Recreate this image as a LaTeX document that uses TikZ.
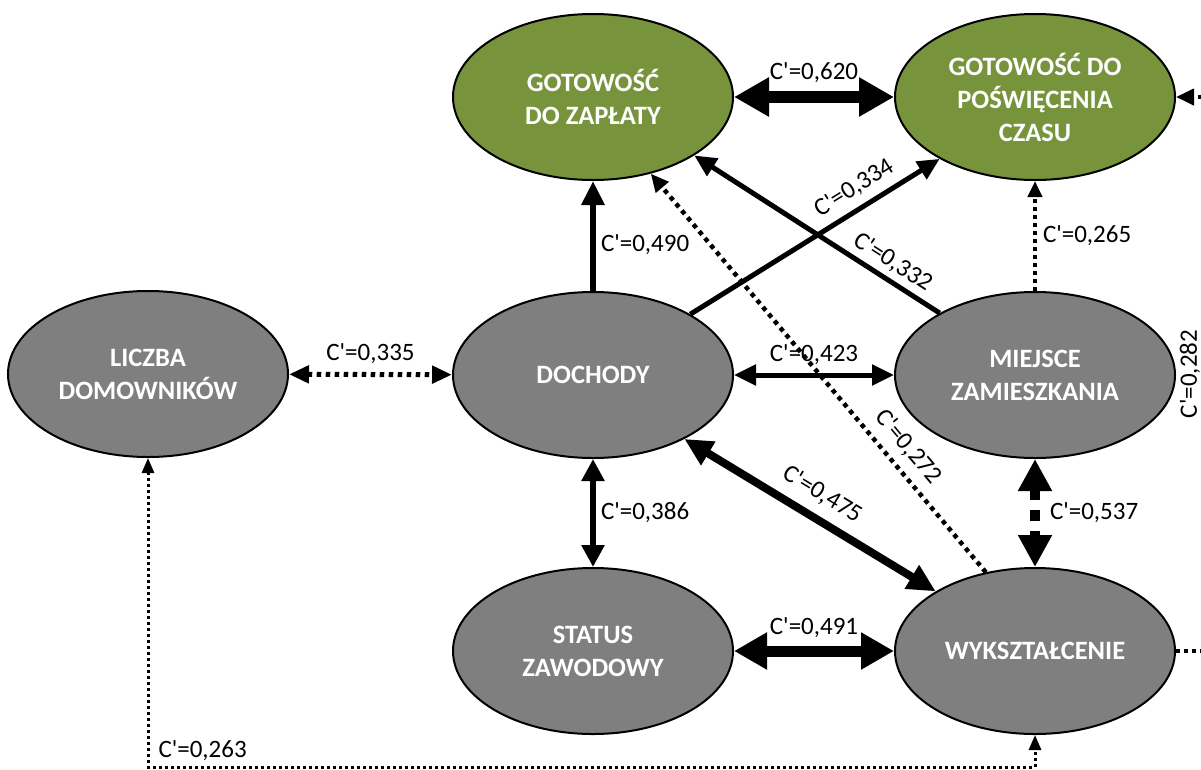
\documentclass[tikz,border=0pt]{standalone}
\usepackage{fontspec}
\setmainfont{Carlito}
\usepackage{xcolor}
\usepackage{tikz}
\usetikzlibrary{arrows.meta}
\usetikzlibrary{shapes.geometric}

\definecolor{goalgreen}{HTML}{77933C}
\definecolor{factorgray}{HTML}{7F7F7F}

\newcommand{\cval}[1]{C\textquotesingle=#1}

\tikzset{
  factor/.style={ellipse, draw=black, line width=2pt, fill=factorgray,
    minimum width=280pt, minimum height=166pt, inner sep=0pt,
    align=center, text=white, font=\fontsize{26.5}{33}\selectfont\bfseries},
  goal/.style={factor, fill=goalgreen},
  coef/.style={font=\fontsize{25}{28}\selectfont, inner sep=0pt},
  twoway/.style 2 args={arrows={Triangle[length=#1,width=#2]-Triangle[length=#1,width=#2]}},
  oneway/.style 2 args={arrows={-Triangle[length=#1,width=#2]}},
  dotline/.style={dash pattern=on #1 off #1},
}

\begin{document}
\begin{tikzpicture}[x=1pt,y=-1pt]

\useasboundingbox (0,0) rectangle (1201,769);

% Draw ellipses
\node[goal] (zap) at (593,97) {GOTOWOŚĆ\\DO ZAPŁATY};
\node[goal] (czas) at (1035,97) {GOTOWOŚĆ DO\\POŚWIĘCENIA\\CZASU};
\node[factor] (licz) at (148,374) {LICZBA\\DOMOWNIKÓW};
\node[factor] (doch) at (593,375) {DOCHODY};
\node[factor] (miej) at (1035,375) {MIEJSCE\\ZAMIESZKANIA};
\node[factor] (stat) at (593,651) {STATUS\\ZAWODOWY};
\node[factor] (wyks) at (1035,651) {WYKSZTAŁCENIE};

\coordinate (lowleft) at (148,767);
\coordinate (lowright) at (1228,651);
\coordinate (upright) at (1228,97);

% Draw solid links
\draw[line width=12pt, twoway={35pt}{37pt}] (zap) -- node[coef, above=8pt] (l620) {\cval{0,620}} (czas);
\draw[line width=6pt, oneway={24pt}{22pt}] (doch) -- node[coef, right=5pt, pos=0.42] (l490) {\cval{0,490}} (zap);
\draw[line width=5pt, oneway={22pt}{20pt}] (doch.32) -- node[coef, sloped, above=8pt, pos=0.7] (l334) {\cval{0,334}} (czas.213);
\draw[line width=5pt, oneway={22pt}{20pt}] (miej.147) -- node[coef, sloped, above=5pt, pos=0.23] (l332) {\cval{0,332}} (zap.330);
\draw[line width=5pt, twoway={22pt}{20pt}] (doch) -- node[coef, above=8pt] (l423) {\cval{0,423}} (miej);
\draw[line width=6pt, twoway={22pt}{22pt}] (doch) -- node[coef, right=5pt] (l386) {\cval{0,386}} (stat);
\draw[line width=8pt, twoway={28pt}{26pt}] (doch.-35) -- node[coef, sloped, above=10pt] (l475) {\cval{0,475}} (wyks.149);
\draw[line width=11pt, twoway={33pt}{35pt}] (stat) -- node[coef, above=8pt] (l491) {\cval{0,491}} (wyks);

% Draw dashed and dotted links
\draw[line width=10pt, dash pattern=on 11pt off 10pt, twoway={32pt}{32pt}] (miej) -- node[coef, right=10pt] (l537) {\cval{0,537}} (wyks);
\draw[line width=5pt, dotline=4.5pt, twoway={20pt}{17pt}] (licz) -- node[coef, above=8pt] (l335) {\cval{0,335}} (doch);
\draw[line width=4pt, dotline=4pt, oneway={16pt}{14pt}] (miej) -- node[coef, right=6pt] (l265) {\cval{0,265}} (czas);
\draw[line width=4.5pt, dotline=4.5pt, oneway={18pt}{16pt}] (wyks.122) -- node[coef, sloped, above=9pt, pos=0.28] (l272) {\cval{0,272}} (zap.307);
\draw[line width=3pt, dotline=3pt, twoway={15pt}{12pt}] (licz) -- (lowleft) node[coef, anchor=south west, xshift=9pt, yshift=5pt] (l263) {\cval{0,263}} -| (wyks);
\draw[line width=4pt, dotline=4pt, oneway={18pt}{16pt}] (wyks) -- (lowright) -- node[coef, sloped, above=26pt] (l282) {\cval{0,282}} (upright) -- (czas);

\end{tikzpicture}
\end{document}
